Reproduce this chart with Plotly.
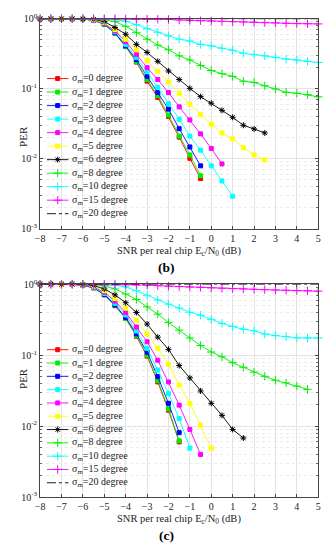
import plotly.graph_objects as go

# ---------------- data ----------------
SNR_DB = [-8.0, -7.5, -7.0, -6.5, -6.0, -5.5, -5.0, -4.5, -4.0, -3.5, -3.0, -2.5, -2.0,
          -1.5, -1.0, -0.5, 0.0, 0.5, 1.0, 1.5, 2.0, 2.5, 3.0, 3.5, 4.0, 4.5, 5.0]
SIGMA_M = [0, 1, 2, 3, 4, 5, 6, 8, 10, 15, 20]
X_TICKS = [-8, -7, -6, -5, -4, -3, -2, -1, 0, 1, 2, 3, 4, 5]
Y_TICKS = [0.001, 0.01, 0.1, 1]
Y_TICK_TEXT = ["10<sup>-3</sup>", "10<sup>-2</sup>", "10<sup>-1</sup>", "10<sup>0</sup>"]
Y_MINOR = [0.002, 0.003, 0.004, 0.005, 0.006, 0.007, 0.008, 0.009,
           0.02, 0.03, 0.04, 0.05, 0.06, 0.07, 0.08, 0.09,
           0.2, 0.3, 0.4, 0.5, 0.6, 0.7, 0.8, 0.9]

# panel (b)
B_S0 = [1.0, 1.0, 1.0, 1.0, 0.99, 0.95, 0.83, 0.62, 0.40, 0.24, 0.128, 0.075, 0.040, 0.0203, 0.0101, 0.0052]
B_S1 = [1.0, 1.0, 1.0, 1.0, 0.99, 0.95, 0.83, 0.62, 0.40, 0.245, 0.135, 0.080, 0.042, 0.021, 0.0113, 0.0057]
B_S2 = [1.0, 1.0, 1.0, 1.0, 0.99, 0.95, 0.84, 0.63, 0.41, 0.26, 0.15, 0.088, 0.051, 0.0268, 0.0147, 0.0079]
B_S3 = [1.0, 1.0, 1.0, 1.0, 0.99, 0.955, 0.85, 0.65, 0.43, 0.28, 0.175, 0.105, 0.061, 0.0366, 0.021, 0.0132,
        0.0079, 0.0048, 0.0029]
B_S4 = [1.0, 1.0, 1.0, 1.0, 0.99, 0.96, 0.86, 0.67, 0.47, 0.31, 0.20, 0.135, 0.088, 0.055, 0.0358, 0.0226,
        0.014, 0.0084]
B_S5 = [1.0, 1.0, 1.0, 1.0, 0.995, 0.97, 0.88, 0.70, 0.51, 0.36, 0.25, 0.177, 0.125, 0.086, 0.060, 0.043,
        0.031, 0.0233, 0.0192, 0.0143, 0.0113, 0.0096]
B_S6 = [1.0, 1.0, 1.0, 1.0, 0.995, 0.98, 0.91, 0.75, 0.60, 0.43, 0.33, 0.246, 0.179, 0.135, 0.101, 0.077,
        0.062, 0.049, 0.039, 0.030, 0.0266, 0.0233]
B_S8 = [1.0, 1.0, 1.0, 1.0, 1.0, 0.99, 0.97, 0.91, 0.78, 0.63, 0.51, 0.42, 0.36, 0.295, 0.257, 0.214,
        0.182, 0.164, 0.150, 0.128, 0.123, 0.110, 0.099, 0.089, 0.086, 0.082, 0.0766]
B_S10 = [1.0, 1.0, 1.0, 1.0, 1.0, 1.0, 0.99, 0.97, 0.92, 0.82, 0.72, 0.64, 0.57, 0.51, 0.48, 0.43,
         0.41, 0.378, 0.354, 0.321, 0.308, 0.295, 0.28, 0.265, 0.257, 0.245, 0.237]
B_S15 = [1.0, 1.0, 1.0, 1.0, 1.0, 1.0, 1.0, 1.0, 0.995, 0.99, 0.987, 0.982, 0.977, 0.96, 0.948, 0.937,
         0.929, 0.918, 0.908, 0.90, 0.889, 0.88, 0.871, 0.861, 0.851, 0.848, 0.843]
B_S20 = [1.0, 1.0, 1.0, 1.0, 1.0, 1.0, 1.0, 1.0, 1.0, 1.0, 1.0, 1.0, 1.0, 1.0, 1.0, 1.0,
         1.0, 1.0, 1.0, 1.0, 1.0, 1.0, 1.0, 1.0, 1.0, 1.0, 1.0]

# panel (c)
C_S0 = [1.0, 1.0, 1.0, 1.0, 0.97, 0.89, 0.71, 0.50, 0.33, 0.185, 0.097, 0.042, 0.0168, 0.0060]
C_S1 = [1.0, 1.0, 1.0, 1.0, 0.97, 0.89, 0.71, 0.50, 0.33, 0.19, 0.10, 0.044, 0.0175, 0.0062]
C_S2 = [1.0, 1.0, 1.0, 1.0, 0.97, 0.90, 0.72, 0.51, 0.34, 0.20, 0.11, 0.050, 0.021, 0.0081]
C_S3 = [1.0, 1.0, 1.0, 1.0, 0.975, 0.91, 0.74, 0.54, 0.37, 0.22, 0.125, 0.062, 0.0288, 0.0128, 0.0049]
C_S4 = [1.0, 1.0, 1.0, 1.0, 0.98, 0.92, 0.77, 0.58, 0.40, 0.25, 0.155, 0.085, 0.042, 0.0198, 0.009, 0.004]
C_S5 = [1.0, 1.0, 1.0, 1.0, 0.985, 0.94, 0.81, 0.63, 0.46, 0.31, 0.20, 0.125, 0.0745, 0.038, 0.021, 0.0104,
        0.0049]
C_S6 = [1.0, 1.0, 1.0, 1.0, 0.99, 0.96, 0.86, 0.71, 0.55, 0.40, 0.275, 0.18, 0.121, 0.0715, 0.0478, 0.0314,
        0.021, 0.0142, 0.0090, 0.0068]
C_S8 = [1.0, 1.0, 1.0, 1.0, 1.0, 0.99, 0.95, 0.86, 0.73, 0.61, 0.48, 0.38, 0.288, 0.226, 0.175, 0.137,
        0.111, 0.095, 0.0785, 0.0677, 0.0578, 0.0504, 0.0444, 0.0408, 0.0367, 0.033]
C_S10 = [1.0, 1.0, 1.0, 1.0, 1.0, 1.0, 0.99, 0.97, 0.92, 0.81, 0.70, 0.60, 0.525, 0.463, 0.403, 0.366,
         0.32, 0.282, 0.254, 0.233, 0.221, 0.199, 0.189, 0.183, 0.176, 0.175, 0.175]
C_S15 = [1.0, 1.0, 1.0, 1.0, 1.0, 1.0, 1.0, 0.995, 0.99, 0.98, 0.97, 0.955, 0.94, 0.93, 0.915, 0.905,
         0.89, 0.88, 0.87, 0.86, 0.85, 0.84, 0.83, 0.825, 0.815, 0.81, 0.80]
C_S20 = [1.0, 1.0, 1.0, 1.0, 1.0, 1.0, 1.0, 1.0, 1.0, 1.0, 1.0, 1.0, 1.0, 1.0, 1.0, 1.0,
         1.0, 1.0, 1.0, 1.0, 1.0, 1.0, 1.0, 1.0, 1.0, 1.0, 1.0]

PANEL_B = [B_S0, B_S1, B_S2, B_S3, B_S4, B_S5, B_S6, B_S8, B_S10, B_S15, B_S20]
PANEL_C = [C_S0, C_S1, C_S2, C_S3, C_S4, C_S5, C_S6, C_S8, C_S10, C_S15, C_S20]

# ---------------- styles ----------------
COLORS = ["#ff0000", "#00ee00", "#0000ff", "#00ffff", "#ff00ff", "#ffff00",
          "#000000", "#00ee00", "#00ffff", "#ff00ff", "#000000"]
SYMBOLS = ["square"] * 6 + ["asterisk-open"] + ["cross-thin-open"] * 3 + [None]
SIZES = [4] * 6 + [5] + [6] * 3 + [0]
DASHES = ["solid"] * 10 + ["dashdot"]
FONT = "Liberation Serif"

W, H = 330, 550
AX_L, AX_R = 36, 321
B_TOP, B_BOT = 12, 227
C_TOP, C_BOT = 284, 502


def fx(px):
    return px / W


def fy(py):
    return 1 - py / H


fig = go.Figure()

panels = [
    dict(data=PANEL_B, xa="x", ya="y", lx="x3", ly="y3", top=B_TOP, bot=B_BOT,
         leg0=73.3, legstep=13.84, label="(b)", xt_y=250, lab_y=267),
    dict(data=PANEL_C, xa="x2", ya="y2", lx="x4", ly="y4", top=C_TOP, bot=C_BOT,
         leg0=351.0, legstep=13.63, label="(c)", xt_y=524.5, lab_y=541),
]

annotations = []
for p in panels:
    for i, vals in enumerate(p["data"]):
        mode = "lines" if SYMBOLS[i] is None else "lines+markers"
        fig.add_trace(go.Scatter(
            x=SNR_DB[:len(vals)], y=vals, mode=mode, xaxis=p["xa"], yaxis=p["ya"],
            line=dict(color=COLORS[i], width=0.9, dash=DASHES[i]),
            marker=dict(symbol=SYMBOLS[i] or "circle", size=SIZES[i], color=COLORS[i],
                        line=dict(color=COLORS[i], width=1)),
            cliponaxis=False, showlegend=False, hoverinfo="skip"))
    # manual legend glyphs (layout, in pixel space of overlay axis)
    for i, s in enumerate(SIGMA_M):
        yy = p["leg0"] + i * p["legstep"]
        fig.add_trace(go.Scatter(
            x=[43, 65], y=[yy, yy], mode="lines", xaxis=p["lx"], yaxis=p["ly"],
            line=dict(color=COLORS[i], width=0.9, dash=DASHES[i]),
            showlegend=False, hoverinfo="skip"))
        if SYMBOLS[i] is not None:
            fig.add_trace(go.Scatter(
                x=[54], y=[yy], mode="markers", xaxis=p["lx"], yaxis=p["ly"],
                marker=dict(symbol=SYMBOLS[i], size=SIZES[i], color=COLORS[i],
                            line=dict(color=COLORS[i], width=1)),
                showlegend=False, hoverinfo="skip"))
        annotations.append(dict(
            xref=p["lx"], yref=p["ly"], x=67, y=yy, xanchor="left", yanchor="middle",
            text="σ<sub>m</sub>=%d degree" % s, showarrow=False,
            font=dict(family=FONT, size=10, color="#222")))
    mid = (p["top"] + p["bot"]) / 2
    annotations.append(dict(xref="paper", yref="paper", x=fx(10), y=fy(mid),
                            text="PER", textangle=-90, showarrow=False,
                            font=dict(family=FONT, size=11, color="#222")))
    annotations.append(dict(xref="paper", yref="paper", x=fx((AX_L + AX_R) / 2), y=fy(p["xt_y"]),
                            text="SNR per real chip E<sub>c</sub>/N<sub>0</sub> (dB)",
                            showarrow=False, yanchor="middle",
                            font=dict(family=FONT, size=10.5, color="#222")))
    annotations.append(dict(xref="paper", yref="paper", x=fx(165), y=fy(p["lab_y"]),
                            text="<b>%s</b>" % p["label"], showarrow=False, yanchor="middle",
                            font=dict(family=FONT, size=13.5, color="#000")))

xcommon = dict(range=[-8, 5], tickvals=X_TICKS, ticks="inside", ticklen=3, mirror="allticks",
               showline=True, linecolor="#444", linewidth=1, showgrid=True, gridcolor="#e3e3e3",
               gridwidth=1, zeroline=False, tickfont=dict(family=FONT, size=10, color="#222"),
               tickcolor="#444", domain=[fx(AX_L), fx(AX_R)])
ycommon = dict(type="log", range=[-3, 0], tickvals=Y_TICKS, ticktext=Y_TICK_TEXT, ticks="inside",
               ticklen=3, mirror="allticks", showline=True, linecolor="#444", linewidth=1,
               showgrid=True, gridcolor="#e3e3e3", zeroline=False, tickcolor="#444",
               tickfont=dict(family=FONT, size=10, color="#222"),
               minor=dict(tickvals=Y_MINOR, ticks="inside", ticklen=2, tickcolor="#666",
                          showgrid=True, gridcolor="#ececec", griddash="dot"))

fig.update_layout(
    width=W, height=H, margin=dict(l=0, r=0, t=0, b=0),
    paper_bgcolor="white", plot_bgcolor="white", showlegend=False,
    xaxis=dict(xcommon, anchor="y"),
    yaxis=dict(ycommon, anchor="x", domain=[fy(B_BOT), fy(B_TOP)]),
    xaxis2=dict(xcommon, anchor="y2"),
    yaxis2=dict(ycommon, anchor="x2", domain=[fy(C_BOT), fy(C_TOP)]),
    xaxis3=dict(overlaying="x", range=[AX_L, AX_R], visible=False, anchor="y3"),
    yaxis3=dict(overlaying="y", range=[B_BOT, B_TOP], visible=False, anchor="x3"),
    xaxis4=dict(overlaying="x2", range=[AX_L, AX_R], visible=False, anchor="y4"),
    yaxis4=dict(overlaying="y2", range=[C_BOT, C_TOP], visible=False, anchor="x4"),
    annotations=annotations,
)

fig.write_html("out.html", config={"displayModeBar": False},
               post_script="document.body.style.margin='0';document.body.style.overflow='hidden';")
